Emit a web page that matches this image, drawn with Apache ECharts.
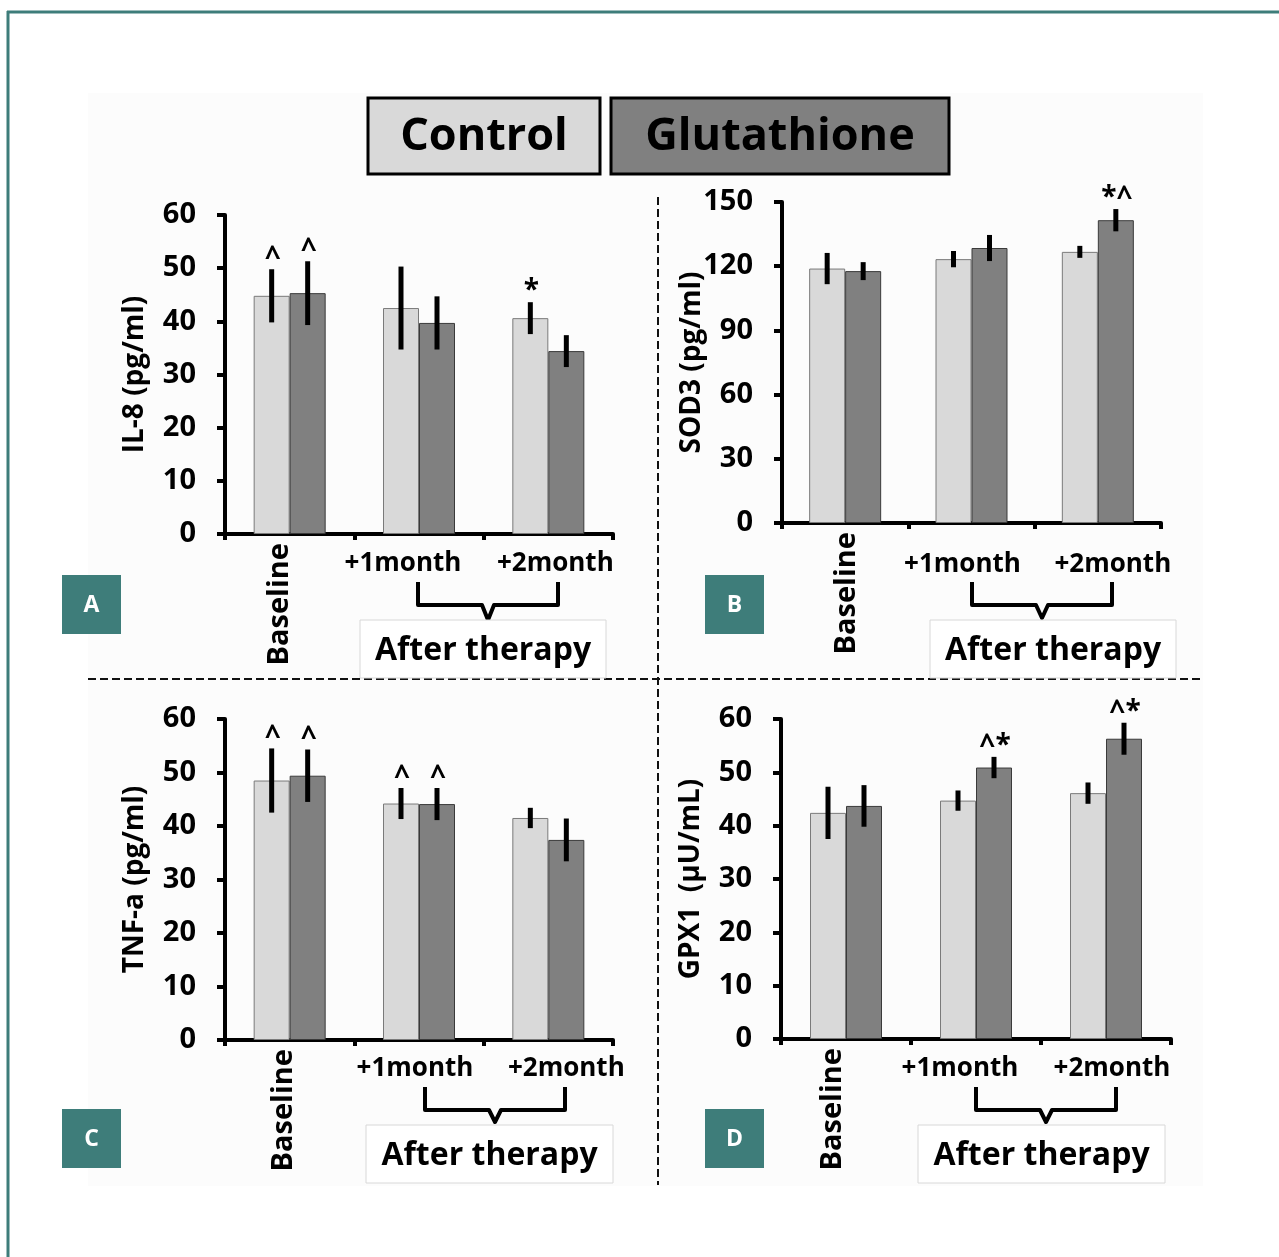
<!DOCTYPE html>
<html>
<head>
<meta charset="utf-8">
<script src="https://cdn.jsdelivr.net/npm/echarts@6/dist/echarts.min.js"></script>
<style>
html,body{margin:0;padding:0;background:#fff;}
#chart{width:1279px;height:1257px;}
</style>
</head>
<body>
<div id="chart"></div>
<script>
// ---------------- DATA ----------------
const categories = ['Baseline', '+1month', '+2month'];
const seriesNames = ['Control', 'Glutathione'];

const il8Control = [44.8, 42.5, 40.6];
const il8ControlErr = [5.0, 7.8, 3.0];
const il8Glut = [45.3, 39.7, 34.4];
const il8GlutErr = [6.0, 5.0, 3.0];
const il8ControlMarks = ['^', '', '*'];
const il8GlutMarks = ['^', '', ''];

const sod3Control = [118.9, 123.3, 126.7];
const sod3ControlErr = [7.3, 3.8, 2.8];
const sod3Glut = [117.7, 128.5, 141.5];
const sod3GlutErr = [4.2, 6.1, 5.2];
const sod3ControlMarks = ['', '', ''];
const sod3GlutMarks = ['', '', '*^'];

const tnfControl = [48.5, 44.2, 41.5];
const tnfControlErr = [6.0, 2.9, 1.9];
const tnfGlut = [49.4, 44.1, 37.4];
const tnfGlutErr = [4.9, 3.0, 4.0];
const tnfControlMarks = ['^', '^', ''];
const tnfGlutMarks = ['^', '^', ''];

const gpxControl = [42.4, 44.7, 46.1];
const gpxControlErr = [4.9, 1.9, 2.0];
const gpxGlut = [43.7, 50.9, 56.3];
const gpxGlutErr = [3.9, 2.0, 3.0];
const gpxControlMarks = ['', '', ''];
const gpxGlutMarks = ['', '^*', '^*'];

const yNames = ['IL-8 (pg/ml)', 'SOD3 (pg/ml)', 'TNF-a (pg/ml)', 'GPX1  (\u03bcU/mL)'];
const yMax = [60, 150, 60, 60];
const yInterval = [10, 30, 10, 10];
const panelLetters = ['A', 'B', 'C', 'D'];
const groupLabel = 'After therapy';

// ---------------- LAYOUT ----------------
const FONT = '"Open Sans", "Noto Sans", sans-serif';
const CONTROL_COLOR = '#d9d9d9';
const GLUT_COLOR = '#808080';
const TEAL = '#3e7d7a';

const panels = [
  { left: 225, top: 215, width: 388, height: 319, monthShift: [0, -16, 7], monthMargin: 17, baseShift: -10,
    letter: [62, 575], brace: [418, 558, 582, 605, 620], box: [360, 620, 246, 58] },
  { left: 782, top: 202, width: 379, height: 321, monthShift: [0, -9, 15], monthMargin: 29, baseShift: 2,
    letter: [705, 575], brace: [972, 1112, 582, 605, 618], box: [930, 620, 246, 58] },
  { left: 225, top: 719, width: 388, height: 321, monthShift: [0, -4, 18], monthMargin: 16, baseShift: -6,
    letter: [62, 1109], brace: [425, 565, 1087, 1110, 1122], box: [366, 1125, 247, 58] },
  { left: 781, top: 719, width: 390, height: 320, monthShift: [0, -16, 6], monthMargin: 17, baseShift: -13,
    letter: [705, 1109], brace: [976, 1116, 1087, 1110, 1122], box: [918, 1125, 247, 58] }
];

const panelData = [
  [il8Control, il8ControlErr, il8ControlMarks, il8Glut, il8GlutErr, il8GlutMarks],
  [sod3Control, sod3ControlErr, sod3ControlMarks, sod3Glut, sod3GlutErr, sod3GlutMarks],
  [tnfControl, tnfControlErr, tnfControlMarks, tnfGlut, tnfGlutErr, tnfGlutMarks],
  [gpxControl, gpxControlErr, gpxControlMarks, gpxGlut, gpxGlutErr, gpxGlutMarks]
];

const BAR_W = 36;

function errRender(marks, offset) {
  return function (params, api) {
    const idx = api.value(0);
    const lo = api.value(1), hi = api.value(2);
    const top = api.coord([idx, hi]);
    const bot = api.coord([idx, lo]);
    const x = top[0] + offset;
    const children = [{
      type: 'line',
      shape: { x1: x, y1: top[1], x2: x, y2: bot[1] },
      style: { stroke: '#000', lineWidth: 5 }
    }];
    const m = marks[params.dataIndex];
    if (m) {
      children.push({
        type: 'text',
        style: { text: m, x: x + 1, y: top[1] + 3, align: 'center', verticalAlign: 'bottom',
          fontSize: 28, fontWeight: 'bold', fontFamily: FONT, fill: '#000' }
      });
    }
    return { type: 'group', children: children };
  };
}

const grid = [], xAxis = [], yAxis = [], series = [], graphic = [];

// background & frame
graphic.push({ type: 'rect', shape: { x: 88, y: 93, width: 1115, height: 1093 }, style: { fill: '#fcfcfc' }, z: -10 });
graphic.push({ type: 'line', shape: { x1: 7, y1: 12, x2: 1279, y2: 12 }, style: { stroke: TEAL, lineWidth: 3 } });
graphic.push({ type: 'line', shape: { x1: 8, y1: 11, x2: 8, y2: 1257 }, style: { stroke: TEAL, lineWidth: 3 } });

// dashed separators
graphic.push({ type: 'line', shape: { x1: 88, y1: 679, x2: 1203, y2: 679 }, style: { stroke: '#111', lineWidth: 2, lineDash: [8, 4] } });
graphic.push({ type: 'line', shape: { x1: 658, y1: 197, x2: 658, y2: 1185 }, style: { stroke: '#111', lineWidth: 2, lineDash: [8, 4] } });

// legend boxes
graphic.push({ type: 'rect', shape: { x: 368, y: 98, width: 232, height: 76 }, style: { fill: CONTROL_COLOR, stroke: '#000', lineWidth: 3 } });
graphic.push({ type: 'text', style: { text: seriesNames[0], x: 484, y: 137, align: 'center', verticalAlign: 'middle', fontSize: 45, fontWeight: 'bold', fontFamily: FONT, fill: '#000' } });
graphic.push({ type: 'rect', shape: { x: 611, y: 98, width: 338, height: 76 }, style: { fill: GLUT_COLOR, stroke: '#000', lineWidth: 3 } });
graphic.push({ type: 'text', style: { text: seriesNames[1], x: 780, y: 137, align: 'center', verticalAlign: 'middle', fontSize: 45, fontWeight: 'bold', fontFamily: FONT, fill: '#000' } });

panels.forEach((p, i) => {
  grid.push({ left: p.left, top: p.top, width: p.width, height: p.height, containLabel: false });

  const richMonth = {};
  p.monthShift.forEach((s, k) => {
    richMonth['m' + k] = {
      fontSize: 26, fontWeight: 'bold', fontFamily: FONT, color: '#000',
      padding: s < 0 ? [0, -2 * s, 0, 0] : [0, 0, 0, 2 * s]
    };
  });
  xAxis.push({
    type: 'category', gridIndex: i, data: categories, position: 'bottom',
    axisLine: { lineStyle: { color: '#000', width: 4 } },
    axisTick: { show: true, length: 6, lineStyle: { color: '#000', width: 4 } },
    axisLabel: {
      interval: 0, margin: p.monthMargin,
      formatter: (v, idx) => idx === 0 ? '' : '{m' + idx + '|' + v + '}',
      rich: richMonth
    }
  });
  const bs = p.baseShift;
  xAxis.push({
    type: 'category', gridIndex: i, data: categories, position: 'bottom',
    axisLine: { show: false }, axisTick: { show: false },
    axisLabel: {
      interval: 0, rotate: 90, margin: 9,
      formatter: (v, idx) => idx === 0 ? '{b|' + v + '}' : '',
      rich: { b: { fontSize: 29, fontWeight: 'bold', fontFamily: FONT, color: '#000',
        padding: bs < 0 ? [0, 0, -2 * bs, 0] : [2 * bs, 0, 0, 0] } }
    }
  });
  yAxis.push({
    type: 'value', gridIndex: i, min: 0, max: yMax[i], interval: yInterval[i],
    name: yNames[i], nameLocation: 'middle', nameGap: 76, nameRotate: 90,
    nameMoveOverlap: false,
    nameTextStyle: { fontSize: 28, fontWeight: 'bold', fontFamily: FONT, color: '#000' },
    axisLine: { show: true, lineStyle: { color: '#000', width: 4 } },
    axisTick: { show: true, length: 8, lineStyle: { color: '#000', width: 4 } },
    axisLabel: { margin: 29, fontSize: 29, fontWeight: 'bold', fontFamily: FONT, color: '#000' },
    splitLine: { show: false }
  });

  const d = panelData[i];
  series.push({
    name: seriesNames[0], type: 'bar', xAxisIndex: 2 * i, yAxisIndex: i, data: d[0],
    barWidth: BAR_W, barGap: '0%',
    itemStyle: { color: CONTROL_COLOR, borderColor: '#7a7a7a', borderWidth: 1 }
  });
  series.push({
    name: seriesNames[1], type: 'bar', xAxisIndex: 2 * i, yAxisIndex: i, data: d[3],
    barWidth: BAR_W, barGap: '0%',
    itemStyle: { color: GLUT_COLOR, borderColor: '#3a3a3a', borderWidth: 1 }
  });
  series.push({
    type: 'custom', xAxisIndex: 2 * i, yAxisIndex: i, z: 10, clip: false,
    data: d[0].map((v, k) => [k, v - d[1][k], v + d[1][k]]),
    renderItem: errRender(d[2], -BAR_W / 2)
  });
  series.push({
    type: 'custom', xAxisIndex: 2 * i, yAxisIndex: i, z: 10, clip: false,
    data: d[3].map((v, k) => [k, v - d[4][k], v + d[4][k]]),
    renderItem: errRender(d[5], BAR_W / 2)
  });

  // letter box
  graphic.push({ type: 'rect', shape: { x: p.letter[0], y: p.letter[1], width: 59, height: 59 }, style: { fill: TEAL } });
  graphic.push({ type: 'text', style: { text: panelLetters[i], x: p.letter[0] + 29.5, y: p.letter[1] + 30, align: 'center', verticalAlign: 'middle', fontSize: 23, fontWeight: 'bold', fontFamily: FONT, fill: '#fff' } });

  // brace
  const b = p.brace, mid = (b[0] + b[1]) / 2;
  graphic.push({ type: 'polyline', shape: { points: [[b[0], b[2]], [b[0], b[3]], [mid - 6, b[3]], [mid, b[4]], [mid + 6, b[3]], [b[1], b[3]], [b[1], b[2]]] },
    style: { stroke: '#000', lineWidth: 4, fill: null, lineJoin: 'round' } });

  // after therapy box
  const bx = p.box;
  graphic.push({ type: 'rect', shape: { x: bx[0], y: bx[1], width: bx[2], height: bx[3] }, style: { fill: '#fff', stroke: '#d8d8d8', lineWidth: 1 } });
  graphic.push({ type: 'text', style: { text: groupLabel, x: bx[0] + bx[2] / 2, y: bx[1] + bx[3] / 2 + 2, align: 'center', verticalAlign: 'middle', fontSize: 32, fontWeight: 'bold', fontFamily: FONT, fill: '#000' } });
});

const chart = echarts.init(document.getElementById('chart'), null, { renderer: 'canvas' });
chart.setOption({
  backgroundColor: '#ffffff',
  animation: false,
  grid: grid,
  xAxis: xAxis,
  yAxis: yAxis,
  series: series,
  graphic: graphic
});
</script>
</body>
</html>
